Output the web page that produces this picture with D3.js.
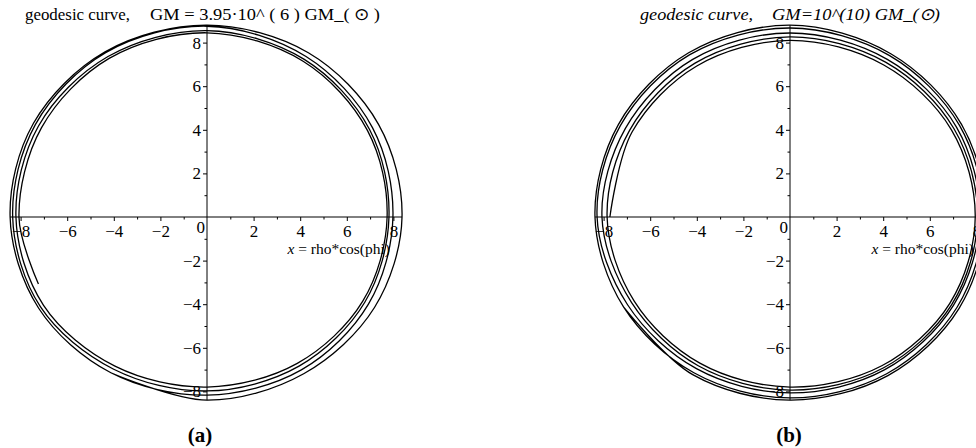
<!DOCTYPE html>
<html>
<head>
<meta charset="utf-8">
<script src="https://cdn.jsdelivr.net/npm/d3@7"></script>
<style>
  body { margin: 0; background: #fff; }
  svg { display: block; }
  text { font-family: "Liberation Serif", "Times New Roman", serif; fill: #000; }
</style>
</head>
<body>
<div class="chart"></div>
<script>
// Geodesic curve samples: running polar angle (degrees) and rho
const phiA = [240, 270, 300, 330, 360, 390, 420, 450, 480, 510, 540, 570,
              600, 630, 660, 690, 720, 750, 780, 810, 840, 870, 900, 930,
              960, 990, 1020, 1050, 1080, 1110, 1140, 1170, 1200, 1230, 1260, 1290,
              1320, 1350, 1380, 1410, 1440, 1470, 1500, 1530, 1560, 1590, 1620, 1643];
const rhoA = [8.25, 8.4, 8.3, 8.3, 8.37, 8.5, 8.7, 8.8, 8.75, 8.6, 8.45, 8.35,
              8.25, 8.17, 8.1, 8.0, 7.98, 8.2, 8.5, 8.75, 8.7, 8.5, 8.34, 8.25,
              8.05, 7.98, 7.9, 7.82, 7.81, 8.05, 8.35, 8.55, 8.5, 8.35, 8.2, 8.1,
              7.9, 7.8, 7.75, 7.72, 7.73, 7.95, 8.25, 8.45, 8.4, 8.2, 8.07, 7.86];

const phiB = [210, 240, 270, 300, 330, 360, 390, 420, 450, 480, 510, 540,
              570, 600, 630, 660, 690, 720, 750, 780, 810, 840, 870, 900,
              930, 960, 990, 1020, 1050, 1080, 1110, 1140, 1170, 1200, 1230, 1260,
              1290, 1320, 1350, 1380, 1410, 1440, 1470, 1500, 1530, 1560, 1590, 1620,
              1650, 1680, 1710, 1740, 1770, 1800, 1830, 1860, 1890, 1920, 1950, 1980];
const rhoB = [8.25, 8.35, 8.4, 8.4, 8.38, 8.4, 8.5, 8.65, 8.8, 8.7, 8.5, 8.37,
              8.25, 8.25, 8.3, 8.3, 8.28, 8.3, 8.4, 8.55, 8.67, 8.6, 8.4, 8.28,
              8.05, 8.03, 8.07, 8.1, 8.1, 8.15, 8.25, 8.35, 8.44, 8.35, 8.15, 8.07,
              7.85, 7.88, 7.94, 8.0, 8.02, 8.05, 8.12, 8.2, 8.26, 8.15, 7.95, 7.85,
              7.72, 7.74, 7.8, 7.88, 7.92, 7.95, 8.0, 8.05, 8.1, 8.0, 7.82, 7.73];

// Axis ticks
const majorTicks = [-8, -6, -4, -2, 2, 4, 6, 8];
const minorTicks = [-7, -5, -3, -1, 1, 3, 5, 7];

const titleA = ["geodesic curve,", "GM = 3.95\u00b710^ ( 6 ) GM_( \u2299 )"];
const titleB = ["geodesic curve,", "GM=10^(10) GM_(\u2299)"];
const xLabel = "rho*cos(phi)";

const svg = d3.select(".chart")
    .append("svg")
    .attr("width", 976)
    .attr("height", 448);

const fmt = d => d < 0 ? "\u2212" + (-d) : String(d);

function panel(opts) {
    const x = d3.scaleLinear().domain([-8, 8]).range([opts.x0 - 8 * 23.3, opts.x0 + 8 * 23.3]);
    const y = d3.scaleLinear().domain([-8, 8]).range([391.4, 42.6]);
    const g = svg.append("g");

    // axes lines
    g.append("line")
        .attr("x1", x(opts.xMin)).attr("x2", x(opts.xMax))
        .attr("y1", y(0)).attr("y2", y(0))
        .attr("stroke", "#000").attr("stroke-width", 1);
    g.append("line")
        .attr("x1", x(0)).attr("x2", x(0))
        .attr("y1", y(opts.yMin)).attr("y2", y(opts.yMax))
        .attr("stroke", "#000").attr("stroke-width", 1);

    // ticks, majors labelled
    const xa = g.append("g")
        .attr("transform", `translate(0, ${y(0)})`)
        .call(d3.axisBottom(x).tickValues(majorTicks).tickSize(4).tickPadding(2).tickFormat(fmt));
    const xm = g.append("g")
        .attr("transform", `translate(0, ${y(0)})`)
        .call(d3.axisBottom(x).tickValues(minorTicks).tickSize(2.5).tickFormat(""));
    const ya = g.append("g")
        .attr("transform", `translate(${x(0)}, 0)`)
        .call(d3.axisLeft(y).tickValues(majorTicks).tickSize(4).tickPadding(2).tickFormat(fmt));
    const ym = g.append("g")
        .attr("transform", `translate(${x(0)}, 0)`)
        .call(d3.axisLeft(y).tickValues(minorTicks).tickSize(2.5).tickFormat(""));

    [xa, xm, ya, ym].forEach(a => {
        a.select(".domain").remove();
        a.selectAll("line").attr("stroke", "#000");
        a.selectAll("text")
            .style("font-family", "'Liberation Serif', serif")
            .style("font-size", "17px")
            .attr("fill", "#000");
    });
    xa.selectAll("text").attr("dy", "0.85em");

    // origin label
    g.append("text")
        .attr("x", x(0) - 2).attr("y", y(0) + 16)
        .attr("text-anchor", "end")
        .style("font-size", "17px")
        .text("0");

    // axis label
    const lab = g.append("text")
        .attr("x", opts.labelX).attr("y", 254)
        .attr("text-anchor", "end")
        .style("font-size", "15.5px");
    lab.append("tspan").style("font-style", "italic").text("x");
    lab.append("tspan").text(" = " + xLabel);

    // curve
    const pts = opts.phi.map((p, i) => {
        const a = p * Math.PI / 180;
        return [opts.rho[i] * Math.cos(a), opts.rho[i] * Math.sin(a)];
    });
    const line = d3.line()
        .x(d => x(d[0]))
        .y(d => y(d[1]))
        .curve(d3.curveCatmullRom.alpha(0.5));
    g.append("path")
        .datum(pts)
        .attr("fill", "none")
        .attr("stroke", "#000")
        .attr("stroke-width", 1.3)
        .attr("d", line);

    // title
    g.append("text")
        .attr("x", opts.t1[0]).attr("y", 20)
        .attr("textLength", opts.t1[1]).attr("lengthAdjust", "spacingAndGlyphs")
        .style("font-size", "17px")
        .style("font-style", opts.italic ? "italic" : "normal")
        .text(opts.title[0]);
    g.append("text")
        .attr("x", opts.t2[0]).attr("y", 20)
        .attr("textLength", opts.t2[1]).attr("lengthAdjust", "spacingAndGlyphs")
        .style("font-size", "17px")
        .style("font-style", opts.italic ? "italic" : "normal")
        .text(opts.title[1]);

    // panel letter
    g.append("text")
        .attr("x", opts.letterX).attr("y", 442)
        .attr("text-anchor", "middle")
        .style("font-size", "21px")
        .style("font-weight", "bold")
        .text("(" + opts.letter + ")");
}

panel({ x0: 207, xMin: -8.45, xMax: 8.37, yMin: -8.4, yMax: 8.8, phi: phiA, rho: rhoA,
        labelX: 390, title: titleA, t1: [25, 105], t2: [150, 230], italic: false, letter: "a", letterX: 200 });
panel({ x0: 790, xMin: -8.37, xMax: 8.3, yMin: -8.4, yMax: 8.8, phi: phiB, rho: rhoB,
        labelX: 974, title: titleB, t1: [640, 113], t2: [772, 168], italic: true, letter: "b", letterX: 789 });
</script>
</body>
</html>
